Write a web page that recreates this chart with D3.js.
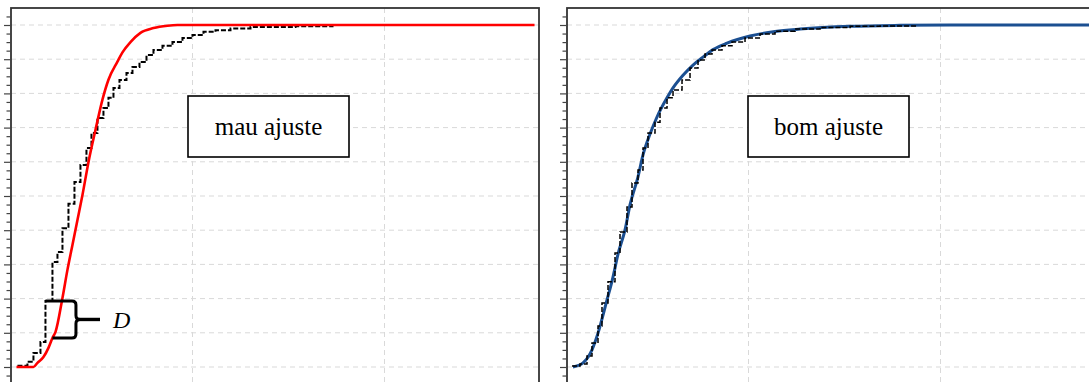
<!DOCTYPE html>
<html>
<head>
<meta charset="utf-8">
<script src="https://cdn.jsdelivr.net/npm/d3@7/dist/d3.min.js"></script>
<style>
  html, body { margin: 0; padding: 0; background: #fff; }
  svg { display: block; }
</style>
</head>
<body>
<svg id="chart" width="1089" height="382"></svg>
<script>
// Poor fit panel: theoretical CDF (red) against the empirical step CDF
const poorFitTheoreticalX = [0.785, 1.675, 1.885, 2.199, 2.461, 2.670, 2.827, 3.194, 3.455, 3.717, 3.979, 4.241, 4.555, 4.921, 5.288, 5.602, 6.073, 6.335, 6.754, 7.277, 7.958, 8.691, 9.215, 27.906];
const poorFitTheoreticalF = [0, 0, 0.012, 0.029, 0.056, 0.085, 0.102, 0.202, 0.284, 0.357, 0.430, 0.503, 0.599, 0.693, 0.782, 0.840, 0.893, 0.920, 0.950, 0.977, 0.991, 0.998, 1, 1];

const poorFitSampleX = [0.838, 1.361, 1.675, 2.042, 2.304, 2.670, 2.932, 3.194, 3.508, 3.822, 4.136, 4.450, 4.712, 5.026, 5.340, 5.602, 5.864, 6.178, 6.545, 6.859, 7.225, 7.592, 7.958, 8.429, 8.953, 9.476, 10.0, 10.576, 11.204, 11.990, 13.037, 15.393, 17.382];
const poorFitSampleF = [0.004, 0.015, 0.041, 0.073, 0.193, 0.307, 0.336, 0.406, 0.477, 0.541, 0.591, 0.640, 0.684, 0.728, 0.757, 0.787, 0.816, 0.839, 0.860, 0.877, 0.892, 0.912, 0.927, 0.939, 0.950, 0.962, 0.971, 0.980, 0.985, 0.990, 0.994, 0.996, 0.996];

// Good fit panel: theoretical CDF (blue) against the empirical step CDF
const goodFitTheoreticalX = [0.814, 1.338, 1.809, 2.123, 2.594, 2.908, 3.170, 3.537, 3.798, 4.217, 4.479, 4.846, 5.212, 5.736, 6.050, 6.573, 7.097, 7.620, 8.144, 8.877, 10.08, 11.39, 12.70, 15.32, 17.93, 20.55, 28.14];
const goodFitTheoreticalF = [0, 0.012, 0.050, 0.099, 0.196, 0.263, 0.330, 0.401, 0.474, 0.556, 0.620, 0.681, 0.731, 0.787, 0.816, 0.853, 0.883, 0.906, 0.928, 0.947, 0.968, 0.981, 0.988, 0.996, 0.999, 1, 1];

const goodFitSampleX = [0.762, 1.181, 1.547, 1.809, 2.123, 2.332, 2.647, 3.013, 3.275, 3.641, 3.903, 4.217, 4.479, 4.741, 5.107, 5.369, 5.736, 6.050, 6.521, 6.940, 7.359, 7.725, 8.092, 8.615, 9.139, 9.819, 10.605, 11.39, 12.437, 13.746, 15.32, 16.888, 18.825];
const goodFitSampleF = [0.003, 0.009, 0.032, 0.070, 0.120, 0.187, 0.249, 0.333, 0.395, 0.468, 0.538, 0.576, 0.640, 0.684, 0.716, 0.757, 0.787, 0.810, 0.839, 0.874, 0.898, 0.915, 0.927, 0.939, 0.950, 0.962, 0.974, 0.982, 0.988, 0.993, 0.996, 0.997, 0.997];

// Axis domains and gridlines
const xDomain = [0.5, 28.14];
const yDomain = [0, 1];
const xGridValues = [10, 20];
const yGridValues = d3.range(0, 11).map(i => i / 10);
const yMajorTicks = d3.range(0, 11).map(i => i / 10);
const yMinorTicks = d3.range(-2, 42).map(i => i / 40).filter(v => Math.round(v * 40) % 4 !== 0);

// Panel labels
const panelLabels = ["mau ajuste", "bom ajuste"];

// The D statistic bracket: top at the sample CDF, bottom at the theoretical CDF
const dBracketTop = { x: 2.304, F: 0.193 };
const dBracketBottom = { x: 2.670, F: 0.085 };
const dBracketSpineX = 3.90;
const dBracketTipX = 5.16;
const dLabel = "D";

const svg = d3.select("#chart");
const panelWidth = 528;
const topY = 8;

function drawPanel(left, theoX, theoF, sampX, sampF, curveColor, curveWidth, sampleWidth, label, boxLeft, curveOnTop) {
  const g = svg.append("g");
  const x = d3.scaleLinear().domain(xDomain).range([left, left + panelWidth]);
  const y = d3.scaleLinear().domain(yDomain).range([367, 25]);

  // gridlines
  g.selectAll(".hgrid").data(yGridValues).join("line")
    .attr("x1", left).attr("x2", left + panelWidth)
    .attr("y1", d => y(d)).attr("y2", d => y(d))
    .attr("stroke", "#d9d9d9").attr("stroke-width", 1)
    .attr("stroke-dasharray", "5,4");
  g.selectAll(".vgrid").data(xGridValues).join("line")
    .attr("x1", d => Math.round(x(d)) + 0.5).attr("x2", d => Math.round(x(d)) + 0.5)
    .attr("y1", topY).attr("y2", 400)
    .attr("stroke", "#d9d9d9").attr("stroke-width", 1)
    .attr("stroke-dasharray", "5,4");

  // frame
  g.append("rect")
    .attr("x", left).attr("y", topY)
    .attr("width", panelWidth).attr("height", 420)
    .attr("fill", "none").attr("stroke", "#333").attr("stroke-width", 1.8);

  // y axis ticks
  const majorAxis = d3.axisLeft(y).tickValues(yMajorTicks).tickSize(7).tickFormat("");
  const minorAxis = d3.axisLeft(y).tickValues(yMinorTicks).tickSize(4.5).tickFormat("");
  const gMaj = g.append("g").attr("transform", `translate(${left},0)`).call(majorAxis);
  const gMin = g.append("g").attr("transform", `translate(${left},0)`).call(minorAxis);
  [gMaj, gMin].forEach(a => {
    a.select(".domain").remove();
    a.selectAll("line").attr("stroke", "#444").attr("stroke-width", 1.2);
  });

  const stepLine = d3.line().x(d => x(d[0])).y(d => y(d[1])).curve(d3.curveStepAfter);
  const smoothLine = d3.line().x(d => x(d[0])).y(d => y(d[1])).curve(d3.curveMonotoneX);
  const sampPts = sampX.map((v, i) => [v, sampF[i]]);
  const theoPts = theoX.map((v, i) => [v, theoF[i]]);

  const drawSample = () => g.append("path").attr("d", stepLine(sampPts))
    .attr("fill", "none").attr("stroke", "#000").attr("stroke-width", sampleWidth)
    .attr("stroke-dasharray", "5,2");
  const drawCurve = () => g.append("path").attr("d", smoothLine(theoPts))
    .attr("fill", "none").attr("stroke", curveColor).attr("stroke-width", curveWidth)
    .attr("stroke-linejoin", "round");

  if (curveOnTop) { drawSample(); drawCurve(); } else { drawCurve(); drawSample(); }

  // label box
  g.append("rect")
    .attr("x", boxLeft).attr("y", 96).attr("width", 161).attr("height", 61)
    .attr("fill", "#fff").attr("stroke", "#000").attr("stroke-width", 1.6);
  g.append("text")
    .attr("x", boxLeft + 80.5).attr("y", 135)
    .attr("text-anchor", "middle")
    .attr("font-family", "'Liberation Serif', 'Times New Roman', serif")
    .attr("font-size", 25).attr("fill", "#000")
    .text(label);

  return { x, y, g };
}

const poor = drawPanel(11, poorFitTheoreticalX, poorFitTheoreticalF, poorFitSampleX, poorFitSampleF,
  "#ff0000", 2.6, 2, panelLabels[0], 188, true);
drawPanel(567, goodFitTheoreticalX, goodFitTheoreticalF, goodFitSampleX, goodFitSampleF,
  "#1b4f91", 3, 1.5, panelLabels[1], 748, false);

// D bracket
(function () {
  const { x, y, g } = poor;
  const xt = x(dBracketTop.x), yt = y(dBracketTop.F);
  const xb = x(dBracketBottom.x), yb = y(dBracketBottom.F);
  const sx = x(dBracketSpineX), tx = x(dBracketTipX);
  const ym = (yt + yb) / 2;
  const r = 4;
  const path = d3.path();
  path.moveTo(xt, yt);
  path.lineTo(sx - r, yt);
  path.quadraticCurveTo(sx, yt, sx, yt + r);
  path.lineTo(sx, ym - r);
  path.quadraticCurveTo(sx, ym, sx + r, ym);
  path.quadraticCurveTo(sx, ym, sx, ym + r);
  path.lineTo(sx, yb - r);
  path.quadraticCurveTo(sx, yb, sx - r, yb);
  path.lineTo(xb, yb);
  g.append("path").attr("d", path.toString())
    .attr("fill", "none").attr("stroke", "#000").attr("stroke-width", 3)
    .attr("stroke-linejoin", "round");
  g.append("line")
    .attr("x1", sx + 2).attr("x2", tx).attr("y1", ym).attr("y2", ym)
    .attr("stroke", "#000").attr("stroke-width", 3.4);
  g.append("text")
    .attr("x", tx + 13).attr("y", ym + 9)
    .attr("font-family", "'Liberation Serif', 'Times New Roman', serif")
    .attr("font-style", "italic")
    .attr("font-size", 24).attr("fill", "#000")
    .text(dLabel);
})();
</script>
</body>
</html>
